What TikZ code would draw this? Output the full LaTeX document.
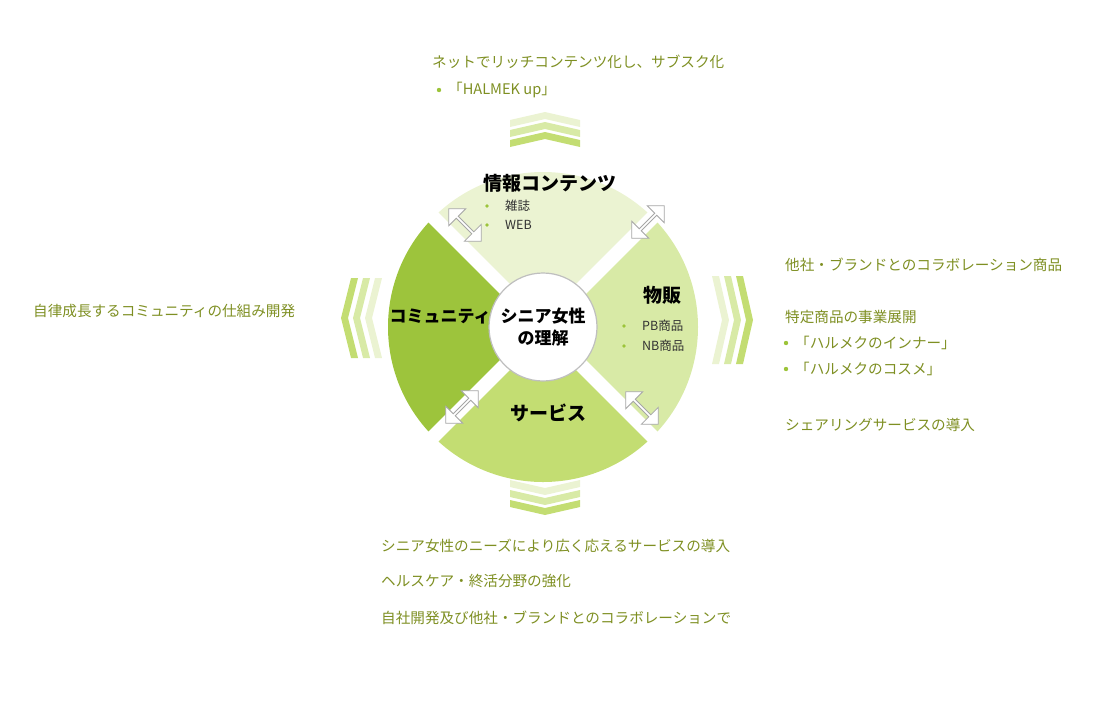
\documentclass[tikz,border=0pt]{standalone}
\usepackage{fontspec}
\setmainfont{Noto Sans CJK JP}
\usetikzlibrary{positioning,shapes.arrows}
\definecolor{txtgreen}{HTML}{7E8F22}
\definecolor{dotgreen}{HTML}{9CC43A}
\definecolor{secA}{HTML}{EBF3D2}
\definecolor{secB}{HTML}{D8EAA6}
\definecolor{secC}{HTML}{C3DD72}
\definecolor{secD}{HTML}{9DC43C}
\begin{document}
\begin{tikzpicture}[x=1pt,y=-1pt,
    note/.style={text=txtgreen,font=\fontsize{14.6}{16}\selectfont,anchor=west,inner sep=0pt},
    sub/.style={font=\fontsize{12.5}{14}\selectfont,anchor=west,inner sep=0pt,text=black!80},
    head/.style={font=\bfseries\fontsize{19}{22}\selectfont,text=black},
    dbl/.style={double arrow,draw=gray!70,line width=0.8pt,fill=white,minimum height=46pt,minimum width=24pt,double arrow head extend=3pt,inner sep=0pt}]
  \useasboundingbox (0,0) rectangle (1116,724);
  \coordinate (o) at (543,327);
  % sectors
  \fill[secA] (o) -- +(-45:155) arc[start angle=-45,end angle=-135,radius=155] -- cycle;
  \fill[secB] (o) -- +(45:155) arc[start angle=45,end angle=-45,radius=155] -- cycle;
  \fill[secC] (o) -- +(135:155) arc[start angle=135,end angle=45,radius=155] -- cycle;
  \fill[secD] (o) -- +(-135:155) arc[start angle=-135,end angle=-225,radius=155] -- cycle;
  \draw[white,line width=14pt] (o) -- +(45:160) (o) -- +(135:160) (o) -- +(-45:160) (o) -- +(-135:160);
  % arrows in the gaps
  \node[dbl,rotate=-45] (g1) at (465,225) {};
  \node[dbl,rotate=45] (g2) at (648,222) {};
  \node[dbl,rotate=45] (g3) at (462,407) {};
  \node[dbl,rotate=-45] (g4) at (642,408) {};
  % centre
  \node[circle,draw=gray!50,line width=1.2pt,fill=white,minimum size=108pt,align=center,
        font=\bfseries\fontsize{17}{22}\selectfont] (core) at (o) {シニア女性\\の理解};
  % chevrons
  \foreach \i/\c in {0/secA,1/secB,2/secC}{
    \fill[\c] (510,120+10*\i) -- (545,112+10*\i) -- (580,120+10*\i) -- (580,127+10*\i) -- (545,119+10*\i) -- (510,127+10*\i) -- cycle;
    \fill[\c] (510,480+10*\i) -- (545,488+10*\i) -- (580,480+10*\i) -- (580,487+10*\i) -- (545,495+10*\i) -- (510,487+10*\i) -- cycle;
    \fill[\c] (382-12*\i,278) -- (372-12*\i,318) -- (382-12*\i,358) -- (375-12*\i,358) -- (365-12*\i,318) -- (375-12*\i,278) -- cycle;
    \fill[\c] (712+12*\i,276) -- (722+12*\i,320) -- (712+12*\i,364) -- (719+12*\i,364) -- (729+12*\i,320) -- (719+12*\i,276) -- cycle;
  }
  % sector labels
  \node[head] (info) at (550,183) {情報コンテンツ};
  \node[sub] (mag) at (505,206) {雑誌};
  \node[sub] (web) at (505,225) {WEB};
  \foreach \n in {mag,web} \fill[dotgreen] ([xshift=-18pt]\n.west) circle (1.8pt);
  \node[head] (shop) at (662,295) {物販};
  \node[sub] (pb) at (642,326) {PB商品};
  \node[sub] (nb) at (642,346) {NB商品};
  \foreach \n in {pb,nb} \fill[dotgreen] ([xshift=-18pt]\n.west) circle (1.8pt);
  \node[head,font=\bfseries\fontsize{17}{20}\selectfont] (comm) at (440,317) {コミュニティ};
  \node[head] (serv) at (548,413) {サービス};
  % notes
  \node[note] (t1) at (432,62) {ネットでリッチコンテンツ化し、サブスク化};
  \node[note] (t2) at (448,90) {「HALMEK up」};
  \node[note] (l1) at (33,311) {自律成長するコミュニティの仕組み開発};
  \node[note] (r1) at (785,265) {他社・ブランドとのコラボレーション商品};
  \node[note] (r2) at (785,317) {特定商品の事業展開};
  \node[note] (r3) at (795,343) {「ハルメクのインナー」};
  \node[note] (r4) at (795,369) {「ハルメクのコスメ」};
  \node[note] (r5) at (785,425) {シェアリングサービスの導入};
  \node[note] (b1) at (381,546) {シニア女性のニーズにより広く応えるサービスの導入};
  \node[note] (b2) at (381,581) {ヘルスケア・終活分野の強化};
  \node[note] (b3) at (381,618) {自社開発及び他社・ブランドとのコラボレーションで};
  \foreach \n in {t2,r3,r4} \fill[dotgreen] ([xshift=-9pt]\n.west) circle (2.2pt);
\end{tikzpicture}
\end{document}
